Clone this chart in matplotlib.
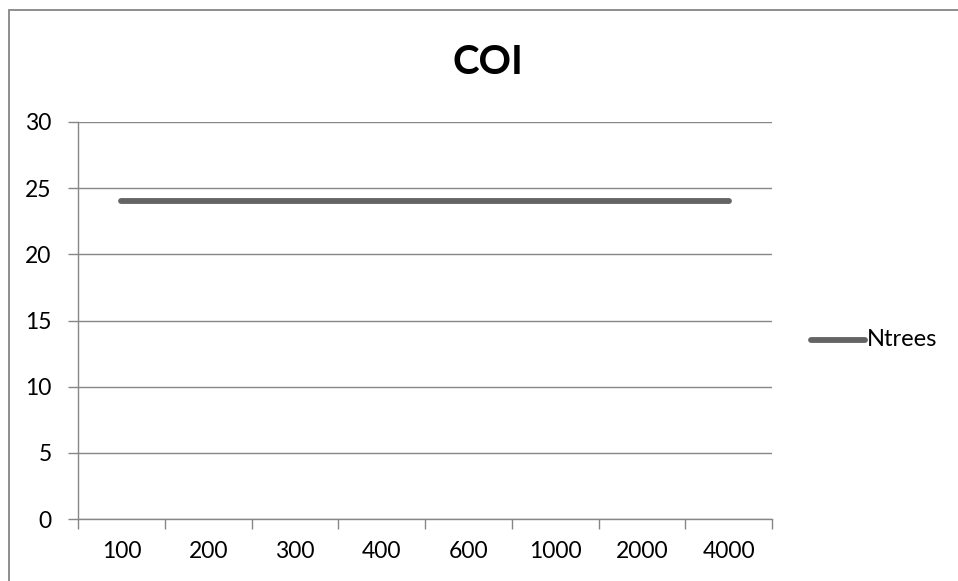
import matplotlib
matplotlib.use("Agg")
import matplotlib.pyplot as plt
from matplotlib.patches import Rectangle
from matplotlib.lines import Line2D

categories = ["100", "200", "300", "400", "600", "1000", "2000", "4000"]
ntrees = [24, 24, 24, 24, 24, 24, 24, 24]
y_ticks = [0, 5, 10, 15, 20, 25, 30]

plt.rcParams["font.family"] = ["Lato", "DejaVu Sans"]

W, H = 958, 581
fig = plt.figure(figsize=(W / 100, H / 100), dpi=100)

# chart border (left and top edges visible)
fig.patches.append(Rectangle((9 / W, -0.05), 1.2, (H - 10) / H + 0.05,
                             transform=fig.transFigure, fill=False,
                             edgecolor="#868686", linewidth=1.3))

left, right, top, bottom = 78, 772, 122, 519
ax = fig.add_axes([left / W, 1 - bottom / H, (right - left) / W, (bottom - top) / H])

x = list(range(len(categories)))
line, = ax.plot(x, ntrees, color="#646464", linewidth=4.2,
                solid_capstyle="round", label="Ntrees")

ax.set_xlim(-0.5, len(categories) - 0.5)
ax.set_ylim(0, 30)
ax.set_yticks(y_ticks)
ax.set_yticklabels([str(v) for v in y_ticks], fontsize=16.5)
ax.set_xticks(x)
ax.set_xticklabels(categories, fontsize=16.5)
ax.set_xticks([i - 0.5 for i in range(len(categories) + 1)], minor=True)

ax.grid(axis="y", color="#868686", linewidth=1.0)
ax.set_axisbelow(True)
for side in ("top", "right"):
    ax.spines[side].set_visible(False)
for side in ("left", "bottom"):
    ax.spines[side].set_color("#868686")
    ax.spines[side].set_linewidth(1.0)

ax.tick_params(axis="y", length=7, width=1.0, color="#868686", pad=12,
               labelcolor="black")
ax.tick_params(axis="x", which="major", length=0, pad=16, labelcolor="black")
ax.tick_params(axis="x", which="minor", length=7, width=1.0, color="#868686")

fig.text(488 / W, 1 - 62 / H, "COI", fontsize=29, fontweight="bold",
         ha="center", va="center")

# legend entry to the right of the plot area
fig.add_artist(Line2D([811 / W, 865 / W], [1 - 340 / H, 1 - 340 / H],
                      transform=fig.transFigure, color=line.get_color(),
                      linewidth=4.2, solid_capstyle="round"))
fig.text(867 / W, 1 - 340 / H, line.get_label(), fontsize=17,
         ha="left", va="center")

fig.savefig("out.png", dpi=100)
